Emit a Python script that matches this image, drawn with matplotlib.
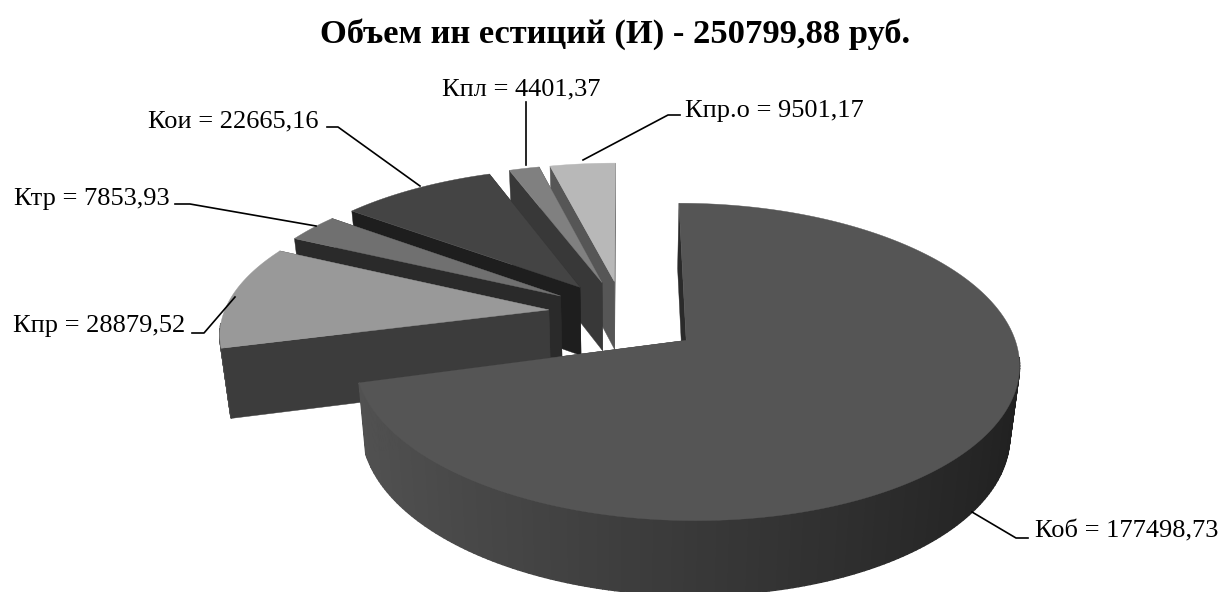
import numpy as np
import matplotlib
matplotlib.use("Agg")
import matplotlib.pyplot as plt

# clockwise from 12 o'clock
names = ["Коб", "Кпр", "Ктр", "Кои", "Кпл", "Кпр.о"]
values = [177498.73, 28879.52, 7853.93, 22665.16, 4401.37, 9501.17]
labels = ["Коб = 177498,73", "Кпр = 28879,52", "Ктр = 7853,93",
          "Кои = 22665,16", "Кпл = 4401,37", "Кпр.о = 9501,17"]
top_colors = ["#555555", "#999999", "#707070", "#444444", "#808080", "#b8b8b8"]
wall_colors = ["#2a2a2a", "#3c3c3c", "#2a2a2a", "#1e1e1e", "#383838", "#565656"]
title = "Объем ин естиций (И) - 250799,88 руб."

# projection of the tilted pie, in pixels: big slice, then the others
view_big = dict(cx=626, cy=319, rx=323, ry=150, dist_x=7.5)
view_rest = dict(cx=623, cy=313, rx=325, ry=142, dist_x=7.0)
dist_y = 7.5
explode = 0.23
depth = 69
shrink = 0.975


def project(x, y, view, bottom=False):
    px = view["dist_x"] / (view["dist_x"] + y)
    py = dist_y / (dist_y + y)
    sx = view["cx"] + view["rx"] * x * px
    sy = view["cy"] - view["ry"] * y * py
    if bottom:
        sx = view["cx"] + (sx - view["cx"]) * shrink
        sy = sy + depth * py ** 0.5
    return sx, sy


def side_shade(a):
    # left of the front is lighter, right goes dark
    t = np.clip((np.sin(a) + 1) / 2, 0, 1)
    g = 0x52 + (0x20 - 0x52) * t
    return (g / 255, g / 255, g / 255)


fig = plt.figure(figsize=(12.24, 5.92), dpi=100)
ax = fig.add_axes([0, 0, 1, 1])
ax.set_xlim(0, 1224)
ax.set_ylim(592, 0)
ax.axis("off")

total = sum(values)
angles = np.cumsum([0] + values) / total * 2 * np.pi

# far slices first, the big one last
for i in [5, 4, 3, 2, 1, 0]:
    view = view_big if i == 0 else view_rest
    a0, a1 = angles[i], angles[i + 1]
    mid = (a0 + a1) / 2
    ox, oy = explode * np.sin(mid), explode * np.cos(mid)
    arc = np.linspace(a0, a1, max(int((a1 - a0) * 60), 8))
    xs = ox + np.sin(arc)
    ys = oy + np.cos(arc)

    def wall(a):
        ex, ey = ox + np.sin(a), oy + np.cos(a)
        t = np.linspace(0, 1, 20)
        wx, wy = ox + (ex - ox) * t, oy + (ey - oy) * t
        up = project(wx, wy, view)
        down = project(wx, wy, view, True)
        return np.r_[up[0], down[0][::-1]], np.r_[up[1], down[1][::-1]]

    # walls turned away from the viewer go under everything else
    front = []
    for a, normal in ((a0, a0 - np.pi / 2), (a1, a1 + np.pi / 2)):
        if np.cos(normal) < 0:
            front.append(a)
        else:
            ax.fill(*wall(a), color=wall_colors[i], lw=0.3, zorder=i * -10)
    tx, ty = project(xs, ys, view)
    bx, by = project(xs, ys, view, True)
    for j in range(len(arc) - 1):
        if np.cos(arc[j]) > -0.1:
            continue
        ax.fill([tx[j], tx[j + 1], bx[j + 1], bx[j]],
                [ty[j], ty[j + 1], by[j + 1], by[j]],
                color=side_shade(arc[j]), lw=1, zorder=i * -10)
    for a in front:
        ax.fill(*wall(a), color=wall_colors[i], lw=0.3, zorder=i * -10)
    ax.fill(*project(np.r_[ox, xs], np.r_[oy, ys], view), color=top_colors[i],
            lw=0.3, zorder=i * -10)

font = dict(family="Liberation Serif", color="black", va="center")
ax.text(615, 34, title, ha="center", fontweight="bold", fontsize=24.8, **font)
label_pos = [(1035, 531), (13, 326), (14, 199), (148, 121), (442, 89), (685, 111)]
leaders = [
    [(1028, 538), (1016, 538), (972, 512)],
    [(192, 333), (204, 333), (235, 297)],
    [(175, 204), (190, 204), (316, 226)],
    [(327, 127), (338, 127), (420, 186)],
    [(526, 102), (526, 165)],
    [(680, 115), (668, 115), (583, 160)],
]
for text, pos, line in zip(labels, label_pos, leaders):
    ax.text(pos[0], pos[1], text, ha="left", fontsize=19, **font)
    ax.plot(*zip(*line), color="black", lw=1.2, zorder=5)

fig.savefig("out.png", dpi=100, facecolor="white")
